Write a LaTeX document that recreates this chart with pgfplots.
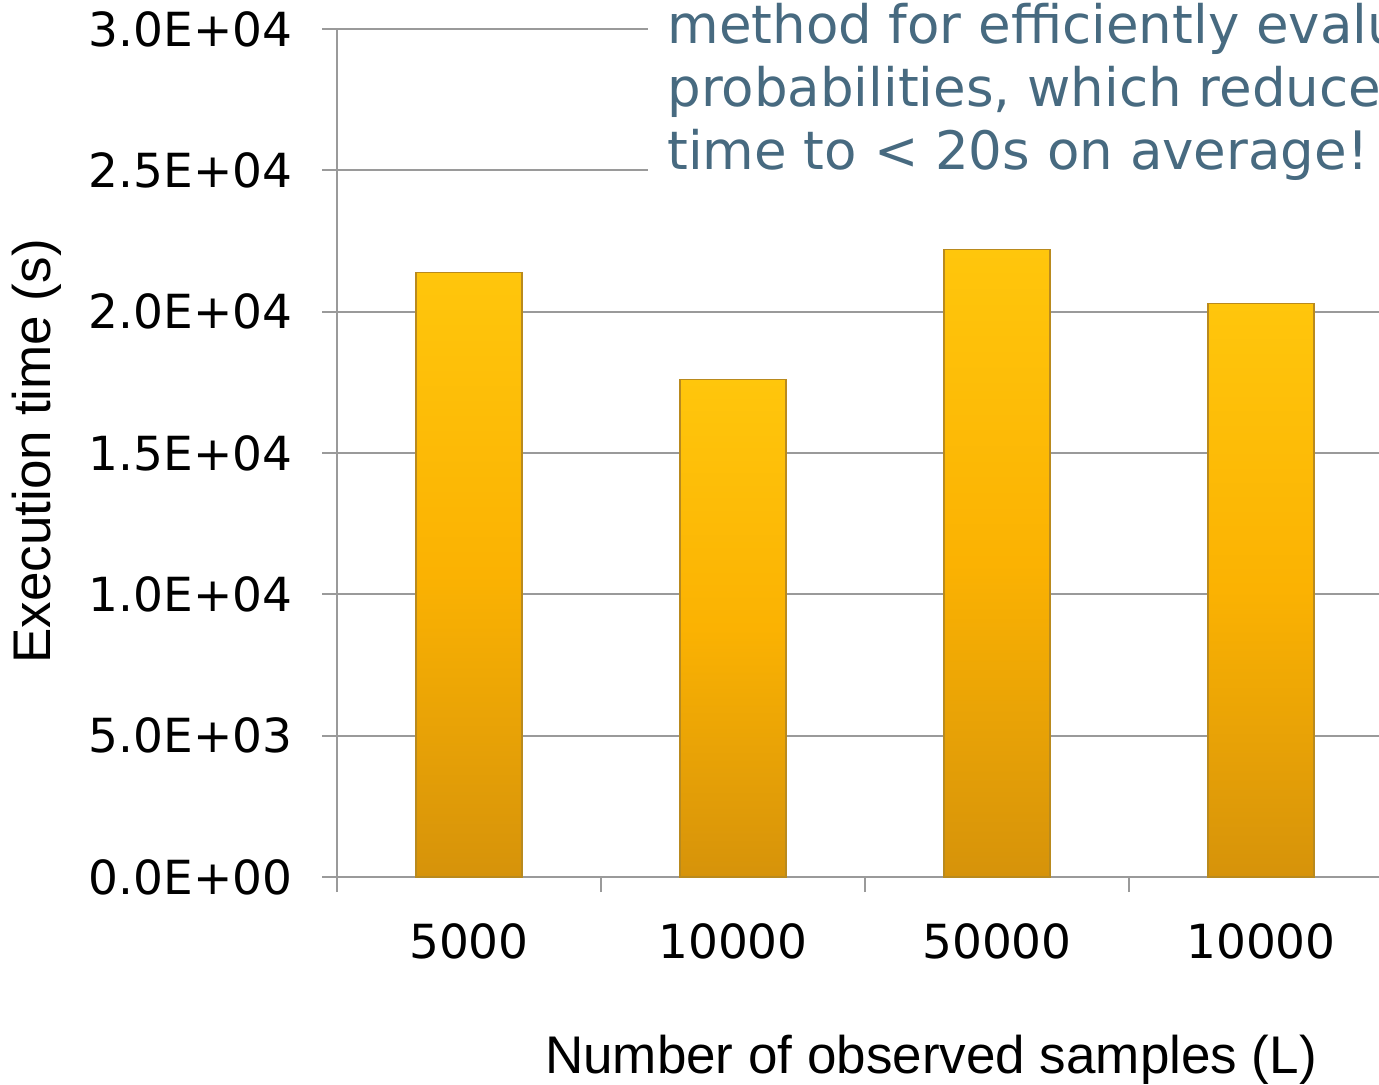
\documentclass[border=0pt]{standalone}
\usepackage{fontspec}
\setmainfont{DejaVu Sans}
\newfontfamily\arial{Liberation Sans}
\usepackage{pgfplots}
\pgfplotsset{compat=1.18}
\definecolor{gridgray}{HTML}{9A9A9A}
\definecolor{txtblue}{HTML}{476A80}
\definecolor{bartop}{HTML}{FFC60C}
\definecolor{barmid}{HTML}{FBB202}
\definecolor{barbot}{HTML}{D6930A}
\definecolor{baredge}{HTML}{B98A1E}
\begin{document}
\begin{tikzpicture}
\begin{axis}[
  at={(168.5pt,-438.5pt)}, anchor=south west,
  scale only axis, width=528pt, height=424pt,
  xmin=-0.5, xmax=3.5, ymin=0, ymax=30000,
  scaled y ticks=false,
  axis x line*=bottom, axis y line*=left,
  axis line style={draw=gridgray, line width=1pt},
  tick align=outside, major tick length=7.5pt,
  tick style={draw=gridgray, line width=1pt},
  ytick={0,5000,...,30000},
  yticklabels={0.0E+00,5.0E+03,1.0E+04,1.5E+04,2.0E+04,2.5E+04,3.0E+04},
  yticklabel style={anchor=east, inner sep=0pt, xshift=-14.5pt},
  xtick={-0.5,0.5,1.5,2.5,3.5}, xticklabels={},
  extra x ticks={0,1,2,3},
  extra x tick labels={5000,10000,50000,10000},
  extra x tick style={tick style={draw=none}},
  xticklabel style={anchor=base, inner sep=0pt, yshift=-33pt},
  tick label style={font=\fontsize{23.5}{28}\selectfont},
  ymajorgrids, grid style={draw=gridgray, line width=1pt},
  xlabel={Number of observed samples (L)},
  xlabel style={at={(axis description cs:0.5625,-0.2154)}, anchor=center, font={\arial\fontsize{26.5}{30}\selectfont}},
  ylabel={Execution time (s)},
  ylabel style={at={(axis description cs:-0.284,0.502)}, anchor=center, font={\arial\fontsize{26.5}{30}\selectfont}},
]
\addplot[ybar, bar width=53pt, bar shift=0pt, draw=baredge, line width=0.6pt, top color=bartop, bottom color=barbot, middle color=barmid] coordinates {(0,21400)};
\addplot[ybar, bar width=53pt, bar shift=0pt, draw=baredge, line width=0.6pt, top color=bartop, bottom color=barbot, middle color=barmid] coordinates {(1,17600)};
\addplot[ybar, bar width=53pt, bar shift=0pt, draw=baredge, line width=0.6pt, top color=bartop, bottom color=barbot, middle color=barmid] coordinates {(2,22200)};
\addplot[ybar, bar width=53pt, bar shift=0pt, draw=baredge, line width=0.6pt, top color=bartop, bottom color=barbot, middle color=barmid] coordinates {(3,20300)};
\end{axis}
\fill[white] (324pt,2pt) rectangle (720pt,-100pt);
\begin{scope}[every node/.style={anchor=base west, inner sep=0pt, text=txtblue, font=\fontsize{26.5}{31.5}\selectfont}]
\node at (333.5pt,-21.5pt) {method for efficiently evaluating};
\node at (333.5pt,-53pt) {probabilities, which reduces};
\node at (333.5pt,-84.5pt) {time to < 20s on average!};
\end{scope}
\pgfresetboundingbox
\path[use as bounding box] (0,0) rectangle (689.5pt,-542pt);
\end{tikzpicture}
\end{document}
